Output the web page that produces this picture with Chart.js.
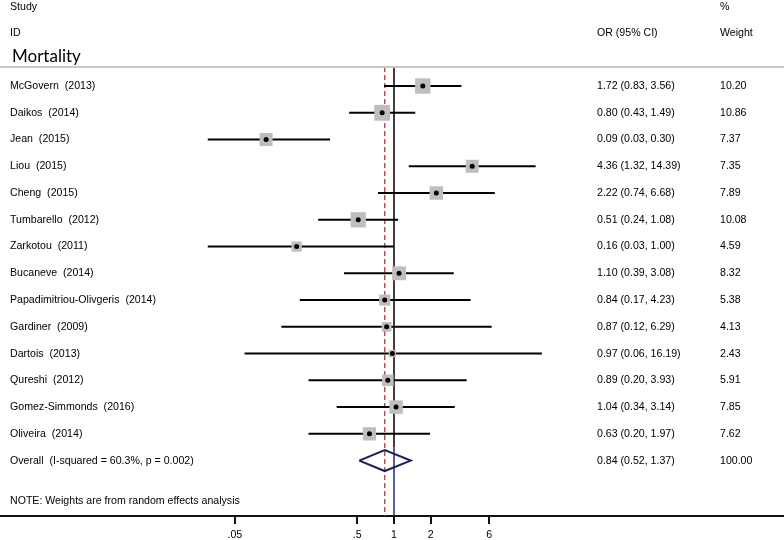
<!DOCTYPE html>
<html>
<head>
<meta charset="utf-8">
<script src="https://cdn.jsdelivr.net/npm/chart.js@4"></script>
<style>
  html, body { margin: 0; padding: 0; background: #fff; }
  #wrap { width: 784px; height: 540px; }
</style>
</head>
<body>
<div id="wrap"><canvas id="forest"></canvas></div>
<script>
const studies = ['McGovern  (2013)', 'Daikos  (2014)', 'Jean  (2015)', 'Liou  (2015)', 'Cheng  (2015)',
  'Tumbarello  (2012)', 'Zarkotou  (2011)', 'Bucaneve  (2014)', 'Papadimitriou-Olivgeris  (2014)',
  'Gardiner  (2009)', 'Dartois  (2013)', 'Qureshi  (2012)', 'Gomez-Simmonds  (2016)', 'Oliveira  (2014)'];
const or = [1.72, 0.80, 0.09, 4.36, 2.22, 0.51, 0.16, 1.10, 0.84, 0.87, 0.97, 0.89, 1.04, 0.63];
const lower = [0.83, 0.43, 0.03, 1.32, 0.74, 0.24, 0.03, 0.39, 0.17, 0.12, 0.06, 0.20, 0.34, 0.20];
const upper = [3.56, 1.49, 0.30, 14.39, 6.68, 1.08, 1.00, 3.08, 4.23, 6.29, 16.19, 3.93, 3.14, 1.97];
const weight = [10.20, 10.86, 7.37, 7.35, 7.89, 10.08, 4.59, 8.32, 5.38, 4.13, 2.43, 5.91, 7.85, 7.62];

const overallLabel = 'Overall  (I-squared = 60.3%, p = 0.002)';
const overall = { or: 0.84, lower: 0.52, upper: 1.37, weight: 100.00 };

const tickValues = [0.05, 0.5, 1, 2, 6];
const tickLabels = ['.05', '.5', '1', '2', '6'];

const rows = studies.map((s, i) => i + 1);
const overallRow = studies.length + 1;
const fmt = v => v.toFixed(2);

// CI whiskers, one small line dataset per study
const ciSets = studies.map((s, i) => ({
  data: [{ x: lower[i], y: rows[i] }, { x: upper[i], y: rows[i] }],
  showLine: true, borderColor: '#000', borderWidth: 2, pointRadius: 0, order: 3
}));

const boxSet = {
  data: or.map((v, i) => ({ x: v, y: rows[i] })),
  pointStyle: 'rect',
  pointRadius: weight.map(w => Math.sqrt(w) * 4.8 / Math.SQRT2),
  backgroundColor: '#bebebe', borderWidth: 0, order: 2
};

const dotSet = {
  data: or.map((v, i) => ({ x: v, y: rows[i] })),
  pointStyle: 'circle', pointRadius: 2.5,
  backgroundColor: '#000', borderWidth: 0, order: 1
};

const dh = 0.39;
const diamondSet = {
  data: [
    { x: overall.lower, y: overallRow }, { x: overall.or, y: overallRow - dh },
    { x: overall.upper, y: overallRow }, { x: overall.or, y: overallRow + dh },
    { x: overall.lower, y: overallRow }
  ],
  showLine: true, borderColor: '#1b1f5c', borderWidth: 2, pointRadius: 0, order: 1
};

const topRule = 0.29;
const yMax = 17.07;
const nullLine = {
  data: [{ x: 1, y: topRule }, { x: 1, y: overallRow - 0.5 }],
  showLine: true, borderColor: '#000', borderWidth: 1.5, pointRadius: 0, order: 4
};
const nullLine2 = {
  data: [{ x: 1, y: overallRow - 0.5 }, { x: 1, y: yMax }],
  showLine: true, borderColor: '#2a2a78', borderWidth: 1.5, pointRadius: 0, order: 4
};
const pooledLine = {
  data: [{ x: overall.or, y: topRule }, { x: overall.or, y: yMax }],
  showLine: true, borderColor: '#b03a3a', borderWidth: 1.3, borderDash: [5, 3], pointRadius: 0, order: 4
};

const textPlugin = {
  id: 'forestText',
  afterDraw(chart) {
    const ctx = chart.ctx;
    const y = chart.scales.y;
    const W = chart.width;
    ctx.save();
    // header separator
    ctx.strokeStyle = '#c8c8c8';
    ctx.lineWidth = 2;
    ctx.beginPath();
    ctx.moveTo(0, y.getPixelForValue(topRule));
    ctx.lineTo(W, y.getPixelForValue(topRule));
    ctx.stroke();

    ctx.fillStyle = '#000';
    ctx.textBaseline = 'middle';
    ctx.font = '10.6px "Liberation Sans", Arial, sans-serif';
    const colL = 10, colOR = 597, colW = 720;
    ctx.fillText('Study', colL, y.getPixelForValue(-1.95));
    ctx.fillText('ID', colL, y.getPixelForValue(-0.98));
    ctx.fillText('%', colW, y.getPixelForValue(-1.95));
    ctx.fillText('OR (95% CI)', colOR, y.getPixelForValue(-0.98));
    ctx.fillText('Weight', colW, y.getPixelForValue(-0.98));

    studies.forEach((s, i) => {
      const py = y.getPixelForValue(rows[i]);
      ctx.fillText(s, colL, py);
      ctx.fillText(fmt(or[i]) + ' (' + fmt(lower[i]) + ', ' + fmt(upper[i]) + ')', colOR, py);
      ctx.fillText(fmt(weight[i]), colW, py);
    });
    const po = y.getPixelForValue(overallRow);
    ctx.fillText(overallLabel, colL, po);
    ctx.fillText(fmt(overall.or) + ' (' + fmt(overall.lower) + ', ' + fmt(overall.upper) + ')', colOR, po);
    ctx.fillText(fmt(overall.weight), colW, po);
    ctx.fillText('NOTE: Weights are from random effects analysis', colL, y.getPixelForValue(16.52));

    ctx.font = '17px Lato, "Open Sans", sans-serif';
    ctx.fillText('Mortality', 12, y.getPixelForValue(-0.1));
    ctx.restore();
  }
};

new Chart(document.getElementById('forest'), {
  type: 'scatter',
  data: { datasets: [...ciSets, boxSet, dotSet, diamondSet, nullLine, nullLine2, pooledLine] },
  options: {
    responsive: true,
    maintainAspectRatio: false,
    animation: false,
    layout: { padding: 0, autoPadding: false },
    plugins: { legend: { display: false }, tooltip: { enabled: false } },
    scales: {
      x: {
        type: 'logarithmic',
        min: 0.000616,
        max: 1546,
        afterBuildTicks: axis => { axis.ticks = tickValues.map(v => ({ value: v })); },
        afterFit: axis => { axis.height = 24; },
        ticks: {
          autoSkip: false, maxRotation: 0, padding: 5,
          color: '#000', font: { family: '"Liberation Sans", Arial, sans-serif', size: 10.6 },
          callback: (v) => tickLabels[tickValues.indexOf(v)] ?? ''
        },
        grid: { drawOnChartArea: false, drawTicks: true, tickLength: 8, color: '#111', lineWidth: 2 },
        border: { display: true, color: '#111', width: 2 }
      },
      y: {
        type: 'linear', reverse: true, display: false, min: -2.215, max: yMax
      }
    }
  },
  plugins: [textPlugin]
});
</script>
</body>
</html>
